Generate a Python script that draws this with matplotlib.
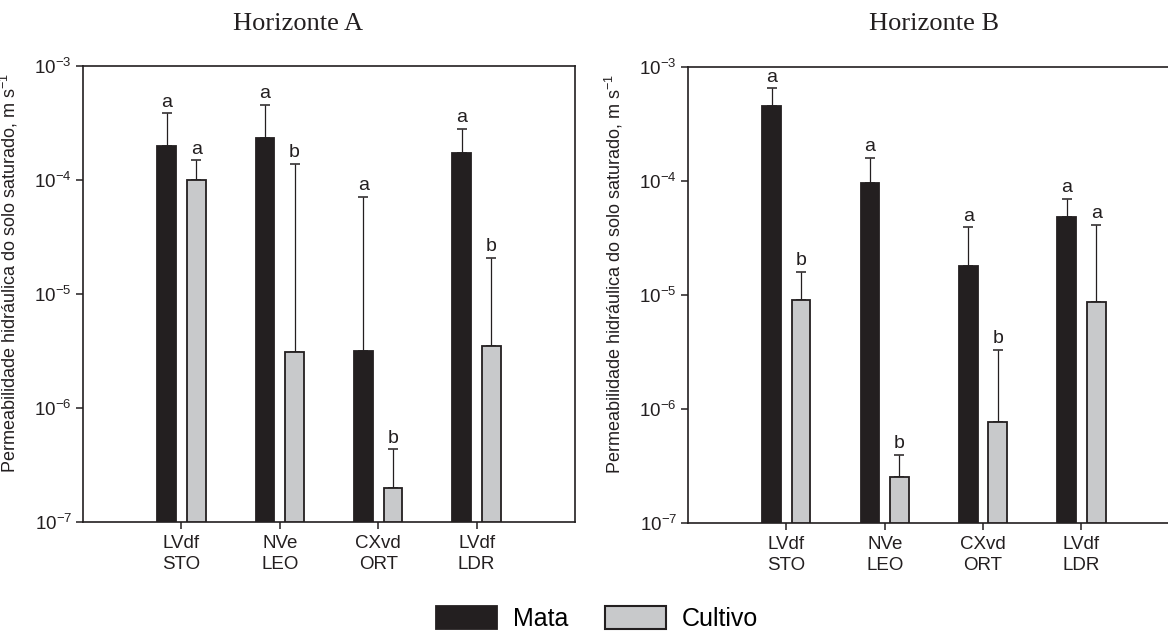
import numpy as np
import matplotlib
matplotlib.use("Agg")
import matplotlib.pyplot as plt
from matplotlib.patches import Patch

plt.rcParams['font.family'] = ['Liberation Sans', 'DejaVu Sans']
plt.rcParams['mathtext.default'] = 'regular'

# Data (m s-1)
soils = ["LVdf\nSTO", "NVe\nLEO", "CXvd\nORT", "LVdf\nLDR"]

# Horizonte A
mata_a = [1.95e-4, 2.3e-4, 3.1e-6, 1.7e-4]
mata_a_top = [3.8e-4, 4.5e-4, 7.05e-5, 2.77e-4]
cult_a = [1.0e-4, 3.05e-6, 1.96e-7, 3.47e-6]
cult_a_top = [1.47e-4, 1.37e-4, 4.3e-7, 2.04e-5]
mata_a_let = ["a", "a", "a", "a"]
cult_a_let = ["a", "b", "b", "b"]

# Horizonte B
mata_b = [4.5e-4, 9.5e-5, 1.78e-5, 4.8e-5]
mata_b_top = [6.5e-4, 1.6e-4, 3.9e-5, 7.0e-5]
cult_b = [9.0e-6, 2.5e-7, 7.6e-7, 8.6e-6]
cult_b_top = [1.58e-5, 3.9e-7, 3.3e-6, 4.1e-5]
mata_b_let = ["a", "a", "a", "a"]
cult_b_let = ["b", "b", "b", "a"]

black = "#231f20"
grey = "#c8c9cb"
W, H = 1168, 631

fig = plt.figure(figsize=(11.68, 6.31), dpi=100)
ax_a = fig.add_axes([83 / W, 1 - 521.5 / H, 492 / W, 456 / H])
ax_b = fig.add_axes([688 / W, 1 - 522.5 / H, 480 / W, 455.5 / H])


def draw_panel(ax, mata, mata_top, cult, cult_top, mata_let, cult_let, xmax):
    x = np.arange(1, len(soils) + 1)
    bw = 0.19
    ylow = 1e-7
    for xs, vals, tops, lets, fc in [(x - 0.15, mata, mata_top, mata_let, black),
                                     (x + 0.15, cult, cult_top, cult_let, grey)]:
        vals = np.array(vals)
        ax.bar(xs, vals - ylow, bottom=ylow, width=bw, color=fc,
               edgecolor=black, linewidth=1.3, zorder=3)
        err = np.array(tops) - vals
        ax.errorbar(xs, vals, yerr=[np.zeros_like(err), err], fmt='none',
                    ecolor=black, elinewidth=0.9, capsize=3.8, capthick=1.1, zorder=2)
        for xi, t, l in zip(xs, tops, lets):
            ax.annotate(l, (xi, t), xytext=(0, 2), textcoords='offset points',
                        ha='center', va='bottom', fontsize=14, color=black)

    ax.set_yscale('log')
    ax.set_ylim(1e-7, 1e-3)
    ax.set_xlim(0, xmax)
    ax.set_yticks([1e-7, 1e-6, 1e-5, 1e-4, 1e-3])
    ax.set_yticklabels([r'$10^{-7}$', r'$10^{-6}$', r'$10^{-5}$',
                        r'$10^{-4}$', r'$10^{-3}$'])
    ax.minorticks_off()
    ax.set_xticks(x)
    ax.set_xticklabels(soils, fontsize=13.5, linespacing=1.25)
    ax.tick_params(axis='y', labelsize=13.5, length=5, width=1.1, color=black,
                   labelcolor=black, pad=3)
    ax.tick_params(axis='x', length=5, width=1.1, color=black,
                   labelcolor=black, pad=5)
    for s in ax.spines.values():
        s.set_color(black)
        s.set_linewidth(1.2)
    ax.set_ylabel('Permeabilidade hidráulica do solo saturado, m s$^{-1}$',
                  fontsize=13, color=black)


draw_panel(ax_a, mata_a, mata_a_top, cult_a, cult_a_top, mata_a_let, cult_a_let, 5.0)
draw_panel(ax_b, mata_b, mata_b_top, cult_b, cult_b_top, mata_b_let, cult_b_let, 4.88)
ax_b.spines['right'].set_visible(False)

ax_a.yaxis.set_label_coords(-0.128, 0.545)
ax_b.yaxis.set_label_coords(-0.131, 0.545)

fig.text(298 / W, 1 - 24 / H, 'Horizonte A', family='Liberation Serif',
         fontsize=19, ha='center', va='center', color=black)
fig.text(934 / W, 1 - 24 / H, 'Horizonte B', family='Liberation Serif',
         fontsize=19, ha='center', va='center', color=black)

handles = [Patch(facecolor=black, edgecolor=black, linewidth=1.3, label='Mata'),
           Patch(facecolor=grey, edgecolor=black, linewidth=1.5, label='Cultivo')]
fig.legend(handles=handles, loc='lower center', bbox_to_anchor=(597 / W, -0.02),
           ncol=2, frameon=False, fontsize=18, handlelength=2.45, handleheight=1.0,
           columnspacing=1.45, handletextpad=0.64, borderpad=0.0)

fig.savefig('out.png', dpi=100)
